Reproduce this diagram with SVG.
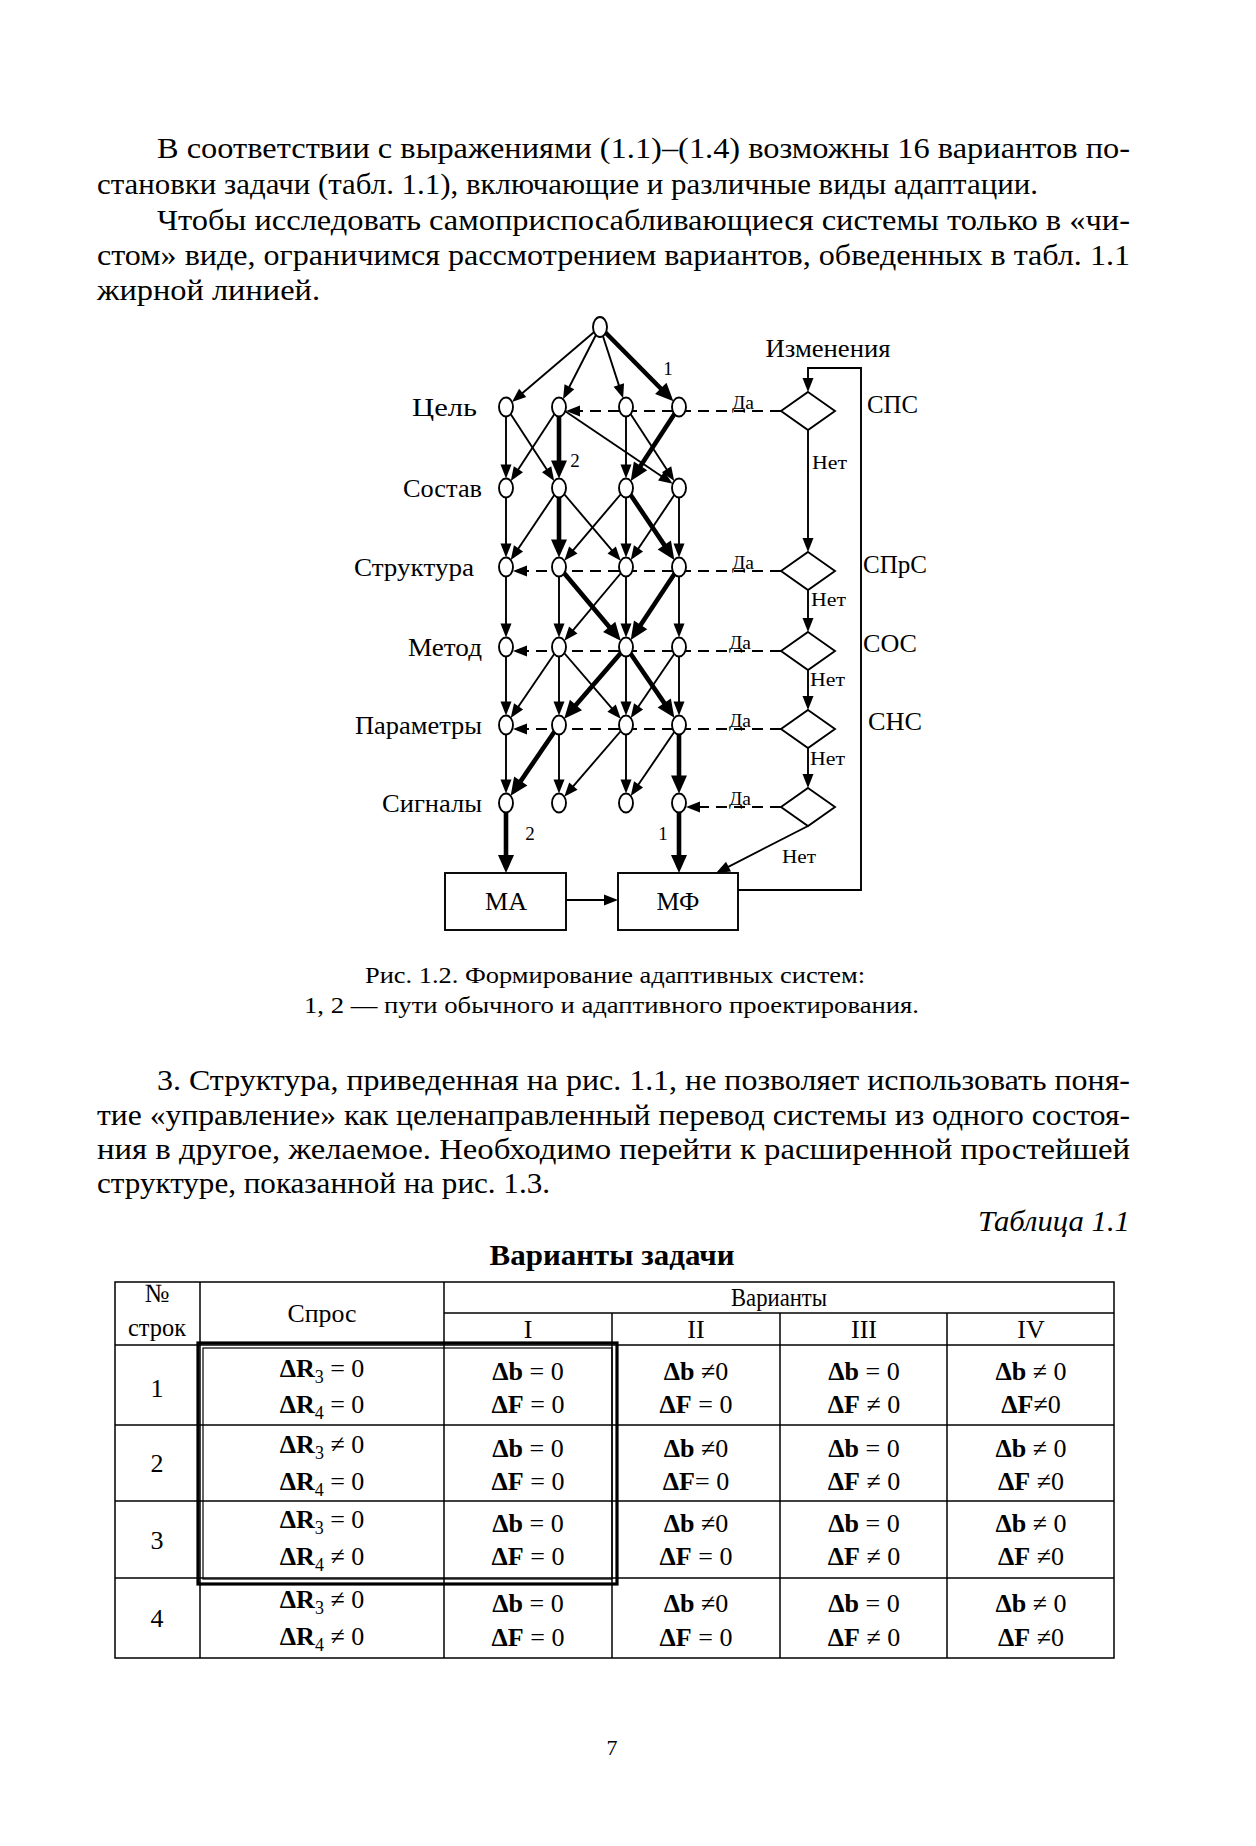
<svg xmlns="http://www.w3.org/2000/svg" width="1256" height="1846" viewBox="0 0 1256 1846">
<style>
text { font-family: "Liberation Serif", "Times New Roman", serif; fill: #000; }
.body { font-size: 29px; }
.cap { font-size: 24px; }
.lbl { font-size: 25px; }
.sm { font-size: 18px; }
.num { font-size: 19px; }
.tb { font-size: 26px; }
.b { font-weight: bold; }
.e { stroke: #000; stroke-width: 1.9; fill: none; }
.bold { stroke-width: 4.6; }
.dash { stroke-dasharray: 11 7; }
.node { fill: #fff; stroke: #000; stroke-width: 1.9; }
.box { fill: #fff; stroke: #000; stroke-width: 1.9; }
.grid { stroke: #000; stroke-width: 1.5; fill: none; }
</style>
<defs>
<marker id="a" viewBox="-15 -7 17 14" refX="-5" refY="0" markerWidth="17" markerHeight="14" markerUnits="userSpaceOnUse" orient="auto"><path d="M-14,-5.5 L0,0 L-14,5.5 z" fill="#000"/></marker>
<marker id="ab" viewBox="-19 -9 21 18" refX="-6" refY="0" markerWidth="21" markerHeight="18" markerUnits="userSpaceOnUse" orient="auto"><path d="M-18,-8 L0,0 L-18,8 z" fill="#000"/></marker>
</defs>
<rect width="1256" height="1846" fill="#fff"/>

<!-- top paragraph -->
<g id="text-top">
<text class="body" x="157" y="158" textLength="973" lengthAdjust="spacingAndGlyphs">В соответствии с выражениями (1.1)–(1.4) возможны 16 вариантов по-</text>
<text class="body" x="97" y="194" textLength="941" lengthAdjust="spacingAndGlyphs">становки задачи (табл. 1.1), включающие и различные виды адаптации.</text>
<text class="body" x="157" y="230" textLength="973" lengthAdjust="spacingAndGlyphs">Чтобы исследовать самоприспосабливающиеся системы только в «чи-</text>
<text class="body" x="97" y="265" textLength="1033" lengthAdjust="spacingAndGlyphs">стом» виде, ограничимся рассмотрением вариантов, обведенных в табл. 1.1</text>
<text class="body" x="97" y="300" textLength="223" lengthAdjust="spacingAndGlyphs">жирной линией.</text>
</g>

<!-- connectors -->
<g id="connectors">
<line class="e" x1="600" y1="327" x2="515.8" y2="398.7" marker-end="url(#a)"/>
<line class="e" x1="600" y1="327" x2="565.3" y2="394.8" marker-end="url(#a)"/>
<line class="e" x1="600" y1="327" x2="621.6" y2="393.6" marker-end="url(#a)"/>
<line class="e bold" x1="600" y1="327" x2="669.2" y2="397" marker-end="url(#ab)"/>
<line class="e" x1="506" y1="407" x2="506" y2="473.5" marker-end="url(#a)"/>
<line class="e" x1="506" y1="407" x2="551.5" y2="476.8" marker-end="url(#a)"/>
<line class="e" x1="559" y1="407" x2="513.5" y2="476.8" marker-end="url(#a)"/>
<line class="e bold" x1="559" y1="407" x2="559" y2="472.5" marker-end="url(#ab)"/>
<line class="e" x1="559" y1="407" x2="668.6" y2="481" marker-end="url(#a)"/>
<line class="e" x1="626" y1="407" x2="626" y2="473.5" marker-end="url(#a)"/>
<line class="e" x1="626" y1="407" x2="671.5" y2="476.8" marker-end="url(#a)"/>
<line class="e bold" x1="679" y1="407" x2="634" y2="475.9" marker-end="url(#ab)"/>
<line class="e" x1="506" y1="488" x2="506" y2="552.5" marker-end="url(#a)"/>
<line class="e" x1="559" y1="488" x2="513.5" y2="555.8" marker-end="url(#a)"/>
<line class="e bold" x1="559" y1="488" x2="559" y2="551.5" marker-end="url(#ab)"/>
<line class="e" x1="559" y1="488" x2="617.5" y2="556.9" marker-end="url(#a)"/>
<line class="e" x1="626" y1="488" x2="567.5" y2="556.9" marker-end="url(#a)"/>
<line class="e" x1="626" y1="488" x2="626" y2="552.5" marker-end="url(#a)"/>
<line class="e bold" x1="626" y1="488" x2="671" y2="554.9" marker-end="url(#ab)"/>
<line class="e" x1="679" y1="488" x2="633.5" y2="555.8" marker-end="url(#a)"/>
<line class="e" x1="679" y1="488" x2="679" y2="552.5" marker-end="url(#a)"/>
<line class="e" x1="506" y1="567" x2="506" y2="632.5" marker-end="url(#a)"/>
<line class="e" x1="559" y1="567" x2="559" y2="632.5" marker-end="url(#a)"/>
<line class="e bold" x1="559" y1="567" x2="616.9" y2="636.1" marker-end="url(#ab)"/>
<line class="e" x1="626" y1="567" x2="567.5" y2="636.9" marker-end="url(#a)"/>
<line class="e" x1="626" y1="567" x2="626" y2="632.5" marker-end="url(#a)"/>
<line class="e bold" x1="679" y1="567" x2="634" y2="634.9" marker-end="url(#ab)"/>
<line class="e" x1="679" y1="567" x2="679" y2="632.5" marker-end="url(#a)"/>
<line class="e" x1="506" y1="647" x2="506" y2="710.5" marker-end="url(#a)"/>
<line class="e" x1="559" y1="647" x2="513.5" y2="713.8" marker-end="url(#a)"/>
<line class="e" x1="559" y1="647" x2="559" y2="710.5" marker-end="url(#a)"/>
<line class="e" x1="559" y1="647" x2="617.5" y2="714.9" marker-end="url(#a)"/>
<line class="e bold" x1="626" y1="647" x2="568.1" y2="714.1" marker-end="url(#ab)"/>
<line class="e" x1="626" y1="647" x2="626" y2="710.5" marker-end="url(#a)"/>
<line class="e bold" x1="626" y1="647" x2="671" y2="712.9" marker-end="url(#ab)"/>
<line class="e" x1="679" y1="647" x2="633.5" y2="713.8" marker-end="url(#a)"/>
<line class="e" x1="679" y1="647" x2="679" y2="710.5" marker-end="url(#a)"/>
<line class="e" x1="506" y1="725" x2="506" y2="788.5" marker-end="url(#a)"/>
<line class="e bold" x1="559" y1="725" x2="514" y2="790.9" marker-end="url(#ab)"/>
<line class="e" x1="559" y1="725" x2="559" y2="788.5" marker-end="url(#a)"/>
<line class="e" x1="626" y1="725" x2="567.5" y2="792.9" marker-end="url(#a)"/>
<line class="e" x1="626" y1="725" x2="626" y2="788.5" marker-end="url(#a)"/>
<line class="e" x1="679" y1="725" x2="633.5" y2="791.8" marker-end="url(#a)"/>
<line class="e bold" x1="679" y1="725" x2="679" y2="787.5" marker-end="url(#ab)"/>
<line class="e bold" x1="506" y1="803" x2="506" y2="867" marker-end="url(#ab)"/>
<line class="e bold" x1="679" y1="803" x2="679" y2="867" marker-end="url(#ab)"/>
<line class="e" x1="566" y1="900" x2="613" y2="900" marker-end="url(#a)"/>
<polyline class="e" points="738,890 861,890 861,368 808,368 808,387" marker-end="url(#a)"/>
<line class="e" x1="808" y1="430" x2="808" y2="547" marker-end="url(#a)"/>
<line class="e" x1="808" y1="590" x2="808" y2="627" marker-end="url(#a)"/>
<line class="e" x1="808" y1="670" x2="808" y2="705" marker-end="url(#a)"/>
<line class="e" x1="808" y1="748" x2="808" y2="783" marker-end="url(#a)"/>
<line class="e" x1="808" y1="826" x2="720.5" y2="870.8" marker-end="url(#a)"/>
<line class="e dash" x1="781" y1="411" x2="571" y2="411" marker-end="url(#a)"/>
<line class="e dash" x1="781" y1="571" x2="518" y2="571" marker-end="url(#a)"/>
<line class="e dash" x1="781" y1="651" x2="518" y2="651" marker-end="url(#a)"/>
<line class="e dash" x1="781" y1="729" x2="518" y2="729" marker-end="url(#a)"/>
<line class="e dash" x1="781" y1="807" x2="691" y2="807" marker-end="url(#a)"/>
</g>

<!-- nodes -->
<g id="n-top"><ellipse class="node" cx="600" cy="327" rx="7" ry="10"/></g>
<g id="row-cel">
<text class="lbl" x="477" y="416" text-anchor="end" textLength="65" lengthAdjust="spacingAndGlyphs">Цель</text>
<ellipse id="n-1a" class="node" cx="506" cy="407" rx="7" ry="9.5"/>
<ellipse id="n-1b" class="node" cx="559" cy="407" rx="7" ry="9.5"/>
<ellipse id="n-1c" class="node" cx="626" cy="407" rx="7" ry="9.5"/>
<ellipse id="n-1d" class="node" cx="679" cy="407" rx="7" ry="9.5"/>
</g>
<g id="row-sostav">
<text class="lbl" x="482" y="497" text-anchor="end" textLength="79" lengthAdjust="spacingAndGlyphs">Состав</text>
<ellipse id="n-2a" class="node" cx="506" cy="488" rx="7" ry="9.5"/>
<ellipse id="n-2b" class="node" cx="559" cy="488" rx="7" ry="9.5"/>
<ellipse id="n-2c" class="node" cx="626" cy="488" rx="7" ry="9.5"/>
<ellipse id="n-2d" class="node" cx="679" cy="488" rx="7" ry="9.5"/>
</g>
<g id="row-struktura">
<text class="lbl" x="474" y="576" text-anchor="end" textLength="120" lengthAdjust="spacingAndGlyphs">Структура</text>
<ellipse id="n-3a" class="node" cx="506" cy="567" rx="7" ry="9.5"/>
<ellipse id="n-3b" class="node" cx="559" cy="567" rx="7" ry="9.5"/>
<ellipse id="n-3c" class="node" cx="626" cy="567" rx="7" ry="9.5"/>
<ellipse id="n-3d" class="node" cx="679" cy="567" rx="7" ry="9.5"/>
</g>
<g id="row-metod">
<text class="lbl" x="482" y="656" text-anchor="end" textLength="74" lengthAdjust="spacingAndGlyphs">Метод</text>
<ellipse id="n-4a" class="node" cx="506" cy="647" rx="7" ry="9.5"/>
<ellipse id="n-4b" class="node" cx="559" cy="647" rx="7" ry="9.5"/>
<ellipse id="n-4c" class="node" cx="626" cy="647" rx="7" ry="9.5"/>
<ellipse id="n-4d" class="node" cx="679" cy="647" rx="7" ry="9.5"/>
</g>
<g id="row-parametry">
<text class="lbl" x="482" y="734" text-anchor="end" textLength="127" lengthAdjust="spacingAndGlyphs">Параметры</text>
<ellipse id="n-5a" class="node" cx="506" cy="725" rx="7" ry="9.5"/>
<ellipse id="n-5b" class="node" cx="559" cy="725" rx="7" ry="9.5"/>
<ellipse id="n-5c" class="node" cx="626" cy="725" rx="7" ry="9.5"/>
<ellipse id="n-5d" class="node" cx="679" cy="725" rx="7" ry="9.5"/>
</g>
<g id="row-signaly">
<text class="lbl" x="482" y="812" text-anchor="end" textLength="100" lengthAdjust="spacingAndGlyphs">Сигналы</text>
<ellipse id="n-6a" class="node" cx="506" cy="803" rx="7" ry="9.5"/>
<ellipse id="n-6b" class="node" cx="559" cy="803" rx="7" ry="9.5"/>
<ellipse id="n-6c" class="node" cx="626" cy="803" rx="7" ry="9.5"/>
<ellipse id="n-6d" class="node" cx="679" cy="803" rx="7" ry="9.5"/>
</g>
<g id="path-labels">
<text class="num" x="668" y="375" text-anchor="middle">1</text>
<text class="num" x="575" y="467" text-anchor="middle">2</text>
<text class="num" x="530" y="840" text-anchor="middle">2</text>
<text class="num" x="663" y="840" text-anchor="middle">1</text>
</g>
<g id="box-ma"><rect class="box" x="445" y="873" width="121" height="57"/><text class="lbl" x="506" y="910" text-anchor="middle" textLength="42" lengthAdjust="spacingAndGlyphs">МА</text></g>
<g id="box-mf"><rect class="box" x="618" y="873" width="120" height="57"/><text class="lbl" x="678" y="910" text-anchor="middle" textLength="43" lengthAdjust="spacingAndGlyphs">МФ</text></g>

<g id="decisions">
<text class="lbl" x="828" y="357" text-anchor="middle" textLength="125" lengthAdjust="spacingAndGlyphs">Изменения</text>
<g id="d1"><polygon class="box" points="808,392 835,411 808,430 781,411"/><text class="sm" x="732" y="409" textLength="22" lengthAdjust="spacingAndGlyphs">Да</text><text class="sm" x="812" y="469" textLength="35" lengthAdjust="spacingAndGlyphs">Нет</text><text class="lbl" x="867" y="413" textLength="51" lengthAdjust="spacingAndGlyphs">СПС</text></g>
<g id="d2"><polygon class="box" points="808,552 835,571 808,590 781,571"/><text class="sm" x="732" y="569" textLength="22" lengthAdjust="spacingAndGlyphs">Да</text><text class="sm" x="811" y="606" textLength="35" lengthAdjust="spacingAndGlyphs">Нет</text><text class="lbl" x="863" y="573" textLength="64" lengthAdjust="spacingAndGlyphs">СПрС</text></g>
<g id="d3"><polygon class="box" points="808,632 835,651 808,670 781,651"/><text class="sm" x="729" y="649" textLength="22" lengthAdjust="spacingAndGlyphs">Да</text><text class="sm" x="810" y="686" textLength="35" lengthAdjust="spacingAndGlyphs">Нет</text><text class="lbl" x="863" y="652" textLength="54" lengthAdjust="spacingAndGlyphs">СОС</text></g>
<g id="d4"><polygon class="box" points="808,710 835,729 808,748 781,729"/><text class="sm" x="729" y="727" textLength="22" lengthAdjust="spacingAndGlyphs">Да</text><text class="sm" x="810" y="765" textLength="35" lengthAdjust="spacingAndGlyphs">Нет</text><text class="lbl" x="868" y="730" textLength="54" lengthAdjust="spacingAndGlyphs">СНС</text></g>
<g id="d5"><polygon class="box" points="808,788 835,807 808,826 781,807"/><text class="sm" x="729" y="805" textLength="22" lengthAdjust="spacingAndGlyphs">Да</text><text class="sm" x="782" y="863" textLength="34" lengthAdjust="spacingAndGlyphs">Нет</text></g>
</g>

<!-- caption -->
<g id="caption">
<text class="cap" x="365" y="983" textLength="500" lengthAdjust="spacingAndGlyphs">Рис. 1.2. Формирование адаптивных систем:</text>
<text class="cap" x="304" y="1013" textLength="615" lengthAdjust="spacingAndGlyphs">1, 2 — пути обычного и адаптивного проектирования.</text>
</g>

<!-- paragraph 3 -->
<g id="text-mid">
<text class="body" x="157" y="1090" textLength="973" lengthAdjust="spacingAndGlyphs">3. Структура, приведенная на рис. 1.1, не позволяет использовать поня-</text>
<text class="body" x="97" y="1125" textLength="1033" lengthAdjust="spacingAndGlyphs">тие «управление» как целенаправленный перевод системы из одного состоя-</text>
<text class="body" x="97" y="1159" textLength="1033" lengthAdjust="spacingAndGlyphs">ния в другое, желаемое. Необходимо перейти к расширенной простейшей</text>
<text class="body" x="97" y="1193" textLength="453" lengthAdjust="spacingAndGlyphs">структуре, показанной на рис. 1.3.</text>
<text class="body" x="1130" y="1231" text-anchor="end" font-style="italic" textLength="152" lengthAdjust="spacingAndGlyphs">Таблица 1.1</text>
<text class="body b" x="612" y="1265" text-anchor="middle" textLength="245" lengthAdjust="spacingAndGlyphs">Варианты задачи</text>
</g>

<!-- table -->
<g id="table">
<rect class="grid" x="115" y="1282" width="999" height="376"/>
<line class="grid" x1="200" y1="1282" x2="200" y2="1658"/>
<line class="grid" x1="444" y1="1282" x2="444" y2="1658"/>
<line class="grid" x1="444" y1="1313" x2="1114" y2="1313"/>
<line class="grid" x1="612" y1="1313" x2="612" y2="1658"/>
<line class="grid" x1="780" y1="1313" x2="780" y2="1658"/>
<line class="grid" x1="947" y1="1313" x2="947" y2="1658"/>
<line class="grid" x1="115" y1="1345" x2="1114" y2="1345"/>
<line class="grid" x1="115" y1="1425" x2="1114" y2="1425"/>
<line class="grid" x1="115" y1="1501" x2="1114" y2="1501"/>
<line class="grid" x1="115" y1="1578" x2="1114" y2="1578"/>
<rect x="198" y="1343" width="419" height="241" fill="none" stroke="#000" stroke-width="3.2"/>
<rect x="203" y="1348" width="409" height="231" fill="none" stroke="#000" stroke-width="1.2"/>

<text class="tb" x="157" y="1302" text-anchor="middle">№</text>
<text class="tb" x="157" y="1336" text-anchor="middle" textLength="58" lengthAdjust="spacingAndGlyphs">строк</text>
<text class="tb" x="322" y="1322" text-anchor="middle" textLength="69" lengthAdjust="spacingAndGlyphs">Спрос</text>
<text class="tb" x="779" y="1306" text-anchor="middle" textLength="96" lengthAdjust="spacingAndGlyphs">Варианты</text>
<text class="tb" x="528" y="1338" text-anchor="middle">I</text>
<text class="tb" x="696" y="1338" text-anchor="middle">II</text>
<text class="tb" x="864" y="1338" text-anchor="middle">III</text>
<text class="tb" x="1031" y="1338" text-anchor="middle">IV</text>

<text class="tb" x="157" y="1397" text-anchor="middle">1</text>
<text class="tb" x="157" y="1472" text-anchor="middle">2</text>
<text class="tb" x="157" y="1549" text-anchor="middle">3</text>
<text class="tb" x="157" y="1627" text-anchor="middle">4</text>

<text class="tb" x="322" y="1377" text-anchor="middle"><tspan class="b">ΔR</tspan><tspan font-size="18" dy="6">3</tspan><tspan dy="-6"> = 0</tspan></text>
<text class="tb" x="322" y="1413" text-anchor="middle"><tspan class="b">ΔR</tspan><tspan font-size="18" dy="6">4</tspan><tspan dy="-6"> = 0</tspan></text>
<text class="tb" x="528" y="1380" text-anchor="middle"><tspan class="b">Δb</tspan> = 0</text>
<text class="tb" x="528" y="1413" text-anchor="middle"><tspan class="b">ΔF</tspan> = 0</text>
<text class="tb" x="696" y="1380" text-anchor="middle"><tspan class="b">Δb</tspan> ≠0</text>
<text class="tb" x="696" y="1413" text-anchor="middle"><tspan class="b">ΔF</tspan> = 0</text>
<text class="tb" x="864" y="1380" text-anchor="middle"><tspan class="b">Δb</tspan> = 0</text>
<text class="tb" x="864" y="1413" text-anchor="middle"><tspan class="b">ΔF</tspan> ≠ 0</text>
<text class="tb" x="1031" y="1380" text-anchor="middle"><tspan class="b">Δb</tspan> ≠ 0</text>
<text class="tb" x="1031" y="1413" text-anchor="middle"><tspan class="b">ΔF</tspan>≠0</text>

<text class="tb" x="322" y="1453" text-anchor="middle"><tspan class="b">ΔR</tspan><tspan font-size="18" dy="6">3</tspan><tspan dy="-6"> ≠ 0</tspan></text>
<text class="tb" x="322" y="1490" text-anchor="middle"><tspan class="b">ΔR</tspan><tspan font-size="18" dy="6">4</tspan><tspan dy="-6"> = 0</tspan></text>
<text class="tb" x="528" y="1457" text-anchor="middle"><tspan class="b">Δb</tspan> = 0</text>
<text class="tb" x="528" y="1490" text-anchor="middle"><tspan class="b">ΔF</tspan> = 0</text>
<text class="tb" x="696" y="1457" text-anchor="middle"><tspan class="b">Δb</tspan> ≠0</text>
<text class="tb" x="696" y="1490" text-anchor="middle"><tspan class="b">ΔF</tspan>= 0</text>
<text class="tb" x="864" y="1457" text-anchor="middle"><tspan class="b">Δb</tspan> = 0</text>
<text class="tb" x="864" y="1490" text-anchor="middle"><tspan class="b">ΔF</tspan> ≠ 0</text>
<text class="tb" x="1031" y="1457" text-anchor="middle"><tspan class="b">Δb</tspan> ≠ 0</text>
<text class="tb" x="1031" y="1490" text-anchor="middle"><tspan class="b">ΔF</tspan> ≠0</text>

<text class="tb" x="322" y="1528" text-anchor="middle"><tspan class="b">ΔR</tspan><tspan font-size="18" dy="6">3</tspan><tspan dy="-6"> = 0</tspan></text>
<text class="tb" x="322" y="1565" text-anchor="middle"><tspan class="b">ΔR</tspan><tspan font-size="18" dy="6">4</tspan><tspan dy="-6"> ≠ 0</tspan></text>
<text class="tb" x="528" y="1532" text-anchor="middle"><tspan class="b">Δb</tspan> = 0</text>
<text class="tb" x="528" y="1565" text-anchor="middle"><tspan class="b">ΔF</tspan> = 0</text>
<text class="tb" x="696" y="1532" text-anchor="middle"><tspan class="b">Δb</tspan> ≠0</text>
<text class="tb" x="696" y="1565" text-anchor="middle"><tspan class="b">ΔF</tspan> = 0</text>
<text class="tb" x="864" y="1532" text-anchor="middle"><tspan class="b">Δb</tspan> = 0</text>
<text class="tb" x="864" y="1565" text-anchor="middle"><tspan class="b">ΔF</tspan> ≠ 0</text>
<text class="tb" x="1031" y="1532" text-anchor="middle"><tspan class="b">Δb</tspan> ≠ 0</text>
<text class="tb" x="1031" y="1565" text-anchor="middle"><tspan class="b">ΔF</tspan> ≠0</text>

<text class="tb" x="322" y="1608" text-anchor="middle"><tspan class="b">ΔR</tspan><tspan font-size="18" dy="6">3</tspan><tspan dy="-6"> ≠ 0</tspan></text>
<text class="tb" x="322" y="1645" text-anchor="middle"><tspan class="b">ΔR</tspan><tspan font-size="18" dy="6">4</tspan><tspan dy="-6"> ≠ 0</tspan></text>
<text class="tb" x="528" y="1612" text-anchor="middle"><tspan class="b">Δb</tspan> = 0</text>
<text class="tb" x="528" y="1646" text-anchor="middle"><tspan class="b">ΔF</tspan> = 0</text>
<text class="tb" x="696" y="1612" text-anchor="middle"><tspan class="b">Δb</tspan> ≠0</text>
<text class="tb" x="696" y="1646" text-anchor="middle"><tspan class="b">ΔF</tspan> = 0</text>
<text class="tb" x="864" y="1612" text-anchor="middle"><tspan class="b">Δb</tspan> = 0</text>
<text class="tb" x="864" y="1646" text-anchor="middle"><tspan class="b">ΔF</tspan> ≠ 0</text>
<text class="tb" x="1031" y="1612" text-anchor="middle"><tspan class="b">Δb</tspan> ≠ 0</text>
<text class="tb" x="1031" y="1646" text-anchor="middle"><tspan class="b">ΔF</tspan> ≠0</text>
</g>

<text id="page-number" x="612" y="1755" text-anchor="middle" font-size="22">7</text>
</svg>
